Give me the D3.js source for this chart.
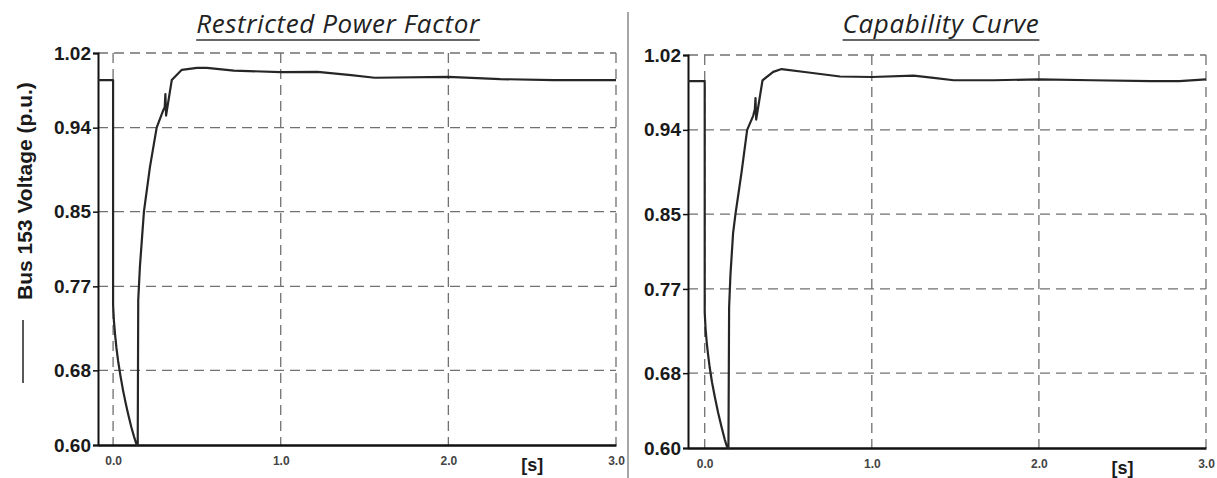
<!DOCTYPE html>
<html>
<head>
<meta charset="utf-8">
<script src="https://cdn.jsdelivr.net/npm/d3@7"></script>
<style>
    body { margin: 0; background: #fff; }
    svg { display: block; }
</style>
</head>
<body>
<div id="chart"></div>
<script>
// data
const yTicks = [0.60, 0.68, 0.77, 0.85, 0.94, 1.02];
const xTicks = [0.0, 1.0, 2.0, 3.0];
const panelTitles = ['Restricted Power Factor', 'Capability Curve'];
const yLabel = 'Bus 153 Voltage (p.u.)';
const xUnit = '[s]';

// Restricted Power Factor
const timeRPF = [-0.09, 0.0, 0.0, 0.005, 0.012, 0.02, 0.03, 0.044, 0.06, 0.075, 0.09, 0.109, 0.125, 0.139, 0.147, 0.15, 0.16, 0.184, 0.22,
    0.26, 0.30, 0.308, 0.312, 0.316, 0.35, 0.41, 0.5, 0.56, 0.72, 1.0, 1.22, 1.42, 1.56, 2.0, 2.31, 2.63, 3.0];
const voltRPF = [0.991, 0.991, 0.750, 0.733, 0.718, 0.704, 0.690, 0.674, 0.658, 0.645, 0.633, 0.619, 0.609, 0.601, 0.600, 0.755, 0.791, 0.850, 0.898,
    0.940, 0.959, 0.962, 0.976, 0.953, 0.991, 1.002, 1.004, 1.004, 1.0012, 0.9995, 0.9998, 0.9963, 0.9935, 0.9945, 0.992, 0.991, 0.991];

// Capability Curve
const timeCap = [-0.1, 0.0, 0.0, 0.005, 0.012, 0.02, 0.03, 0.044, 0.06, 0.08, 0.10, 0.12, 0.134, 0.142, 0.146, 0.154, 0.17, 0.184, 0.22, 0.254,
    0.29, 0.30, 0.304, 0.308, 0.346, 0.41, 0.46, 0.61, 0.81, 1.0, 1.25, 1.37, 1.49, 1.73, 2.0, 2.32, 2.67, 2.84, 3.0];
const voltCap = [0.992, 0.992, 0.745, 0.728, 0.713, 0.700, 0.686, 0.670, 0.655, 0.638, 0.623, 0.609, 0.601, 0.600, 0.750, 0.785, 0.830, 0.850, 0.894, 0.940,
    0.955, 0.962, 0.974, 0.951, 0.993, 1.002, 1.005, 1.0016, 0.997, 0.9965, 0.998, 0.9955, 0.993, 0.993, 0.994, 0.993, 0.992, 0.992, 0.994];

const width = 1217, height = 478;
const svg = d3.select('#chart').append('svg')
    .attr('width', width)
    .attr('height', height);

svg.append('rect').attr('width', width).attr('height', height).attr('fill', '#fff');

const panels = [
    { t0: -0.09, left: 98, right: 616, top: 53, bottom: 445, titleX: 338, title: panelTitles[0], t: timeRPF, v: voltRPF },
    { t0: -0.10, left: 688, right: 1206, top: 55, bottom: 448, titleX: 941, title: panelTitles[1], t: timeCap, v: voltCap }
];

function drawPanel(p) {
    const x = d3.scaleLinear().domain([p.t0, 3.0]).range([p.left, p.right]);
    const y = d3.scaleLinear().domain([0.60, 1.02]).range([p.bottom, p.top]);
    const g = svg.append('g');

    // dashed grid
    g.append('g').selectAll('line')
        .data(yTicks.filter(d => d > 0.6))
        .join('line')
        .attr('x1', p.left).attr('x2', p.right)
        .attr('y1', d => y(d)).attr('y2', d => y(d))
        .attr('stroke', '#707070').attr('stroke-width', 1.3)
        .attr('stroke-dasharray', '10,6');
    g.append('g').selectAll('line')
        .data(xTicks)
        .join('line')
        .attr('x1', d => x(d)).attr('x2', d => x(d))
        .attr('y1', p.top).attr('y2', p.bottom)
        .attr('stroke', '#707070').attr('stroke-width', 1.3)
        .attr('stroke-dasharray', '10,6');

    // y axis
    const yAxis = d3.axisLeft(y).tickValues(yTicks).tickFormat(d3.format('.2f')).tickSize(5).tickPadding(2);
    const ya = g.append('g').attr('transform', 'translate(' + p.left + ',0)').call(yAxis);
    ya.select('.domain').attr('stroke', '#111').attr('stroke-width', 2);
    ya.selectAll('line').attr('stroke', '#111').attr('stroke-width', 1.5);
    ya.selectAll('text')
        .attr('font-family', 'Liberation Sans, Arial, sans-serif')
        .attr('font-weight', 'bold')
        .attr('font-size', 19)
        .attr('fill', '#1a1a1a');

    // x axis
    const xAxis = d3.axisBottom(x).tickValues(xTicks).tickFormat(d3.format('.1f')).tickSize(0).tickPadding(11);
    const xa = g.append('g').attr('transform', 'translate(0,' + p.bottom + ')').call(xAxis);
    xa.select('.domain').attr('stroke', '#111').attr('stroke-width', 2.5);
    xa.selectAll('text')
        .attr('font-family', 'Liberation Sans, Arial, sans-serif')
        .attr('font-weight', 'bold')
        .attr('font-size', 12)
        .attr('fill', '#444');

    g.append('text')
        .attr('x', x(2.5)).attr('y', p.bottom + 26)
        .attr('text-anchor', 'middle')
        .attr('font-family', 'Liberation Sans, Arial, sans-serif')
        .attr('font-weight', 'bold')
        .attr('font-size', 18)
        .attr('fill', '#1a1a1a')
        .text(xUnit);

    // voltage curve
    const pts = p.t.map((t, i) => [t, p.v[i]]);
    const line = d3.line().x(d => x(d[0])).y(d => y(d[1]));
    g.append('path')
        .datum(pts)
        .attr('d', line)
        .attr('fill', 'none')
        .attr('stroke', '#262626')
        .attr('stroke-width', 2.2)
        .attr('stroke-linejoin', 'round');

    // underlined italic title
    const title = g.append('text')
        .attr('x', p.titleX).attr('y', 33)
        .attr('text-anchor', 'middle')
        .attr('font-family', 'Open Sans, sans-serif')
        .attr('font-style', 'italic')
        .attr('font-size', 26)
        .attr('letter-spacing', 0.6)
        .attr('fill', '#222')
        .text(p.title);
    const tw = title.node().getComputedTextLength();
    g.append('line')
        .attr('x1', p.titleX - tw / 2).attr('x2', p.titleX + tw / 2)
        .attr('y1', 40).attr('y2', 40)
        .attr('stroke', '#333').attr('stroke-width', 1.3);
}

panels.forEach(drawPanel);

// separator between the two panels
svg.append('line')
    .attr('x1', 628).attr('x2', 628)
    .attr('y1', 12).attr('y2', height)
    .attr('stroke', '#8a8a8a').attr('stroke-width', 1.5);

// y label with its legend stroke
svg.append('line')
    .attr('x1', 23).attr('x2', 23)
    .attr('y1', 320).attr('y2', 383)
    .attr('stroke', '#222').attr('stroke-width', 1.5);
svg.append('text')
    .attr('transform', 'translate(32,300) rotate(-90)')
    .attr('font-family', 'Liberation Sans, Arial, sans-serif')
    .attr('font-weight', 'bold')
    .attr('font-size', 21)
    .attr('fill', '#1a1a1a')
    .text(yLabel);
</script>
</body>
</html>
